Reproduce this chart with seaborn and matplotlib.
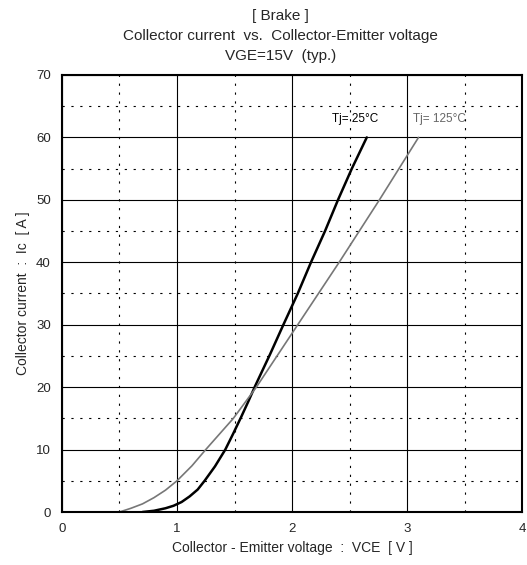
import numpy as np
import pandas as pd
import matplotlib
matplotlib.use("Agg")
import matplotlib.pyplot as plt
import seaborn as sns

vce_25 = [0.7, 0.8, 0.9, 0.97, 1.04, 1.11, 1.18, 1.24, 1.33, 1.42, 1.49, 1.56, 1.62, 1.68,
          1.81, 1.925, 2.05, 2.165, 2.287, 2.40, 2.52, 2.65]
ic_25 = [0, 0.2, 0.6, 1.0, 1.6, 2.5, 3.6, 5.0, 7.3, 10, 12.6, 15.3, 17.7, 20.2,
         25.3, 30, 35, 40, 45, 50, 55, 60]
vce_125 = [0.5, 0.6, 0.7, 0.8, 0.9, 1.0, 1.13, 1.25, 1.37, 1.49, 1.59, 1.69, 1.78, 1.87,
           2.05, 2.23, 2.41, 2.585, 2.76, 2.93, 3.10]
ic_125 = [0, 0.6, 1.3, 2.3, 3.5, 5, 7.4, 10, 12.5, 15, 17.5, 20, 22.5, 25,
          30, 35, 40, 45, 50, 55, 60]

sns.set_style("white")
plt.rcParams['font.family'] = ['Liberation Sans', 'DejaVu Sans']

fig = plt.figure(figsize=(5.27, 5.65), dpi=100)
ax = fig.add_axes([0.1176, 0.0938, 0.873, 0.7735])

df25 = pd.DataFrame({"Vce": vce_25, "Ic": ic_25})
df125 = pd.DataFrame({"Vce": vce_125, "Ic": ic_125})
sns.lineplot(data=df25, x="Vce", y="Ic", ax=ax, color="black", linewidth=1.8)
sns.lineplot(data=df125, x="Vce", y="Ic", ax=ax, color="#777777", linewidth=1.2)

ax.set_xlim(0, 4)
ax.set_ylim(0, 70)
ax.set_xticks([0, 1, 2, 3, 4])
ax.set_yticks(range(0, 71, 10))
ax.set_xticks(np.arange(0.5, 4, 1), minor=True)
ax.set_yticks(range(5, 70, 10), minor=True)
ax.grid(which="major", color="black", linewidth=0.8)
ax.grid(which="minor", color="black", linewidth=0.8, linestyle=(0, (2, 6)))
ax.set_axisbelow(True)
for s in ax.spines.values():
    s.set_color("black")
    s.set_linewidth(1.5)
ax.tick_params(axis="both", which="major", direction="in", length=6, labelsize=9.5, pad=8)
ax.tick_params(axis="both", which="minor", direction="in", length=3)

ax.text(2.35, 62.5, "Tj= 25°C", fontsize=8.5, color="black")
ax.text(3.05, 62.5, "Tj= 125°C", fontsize=8.5, color="#666666")

ax.set_xlabel("Collector - Emitter voltage  :  VCE  [ V ]", fontsize=10)
ax.set_ylabel("Collector current  :  Ic  [ A ]", fontsize=10)
fig.text(0.533, 0.972, "[ Brake ]", ha="center", va="center", fontsize=11)
fig.text(0.533, 0.937, "Collector current  vs.  Collector-Emitter voltage", ha="center", va="center", fontsize=11)
fig.text(0.533, 0.901, "VGE=15V  (typ.)", ha="center", va="center", fontsize=11)

fig.savefig("out.png", dpi=100)
